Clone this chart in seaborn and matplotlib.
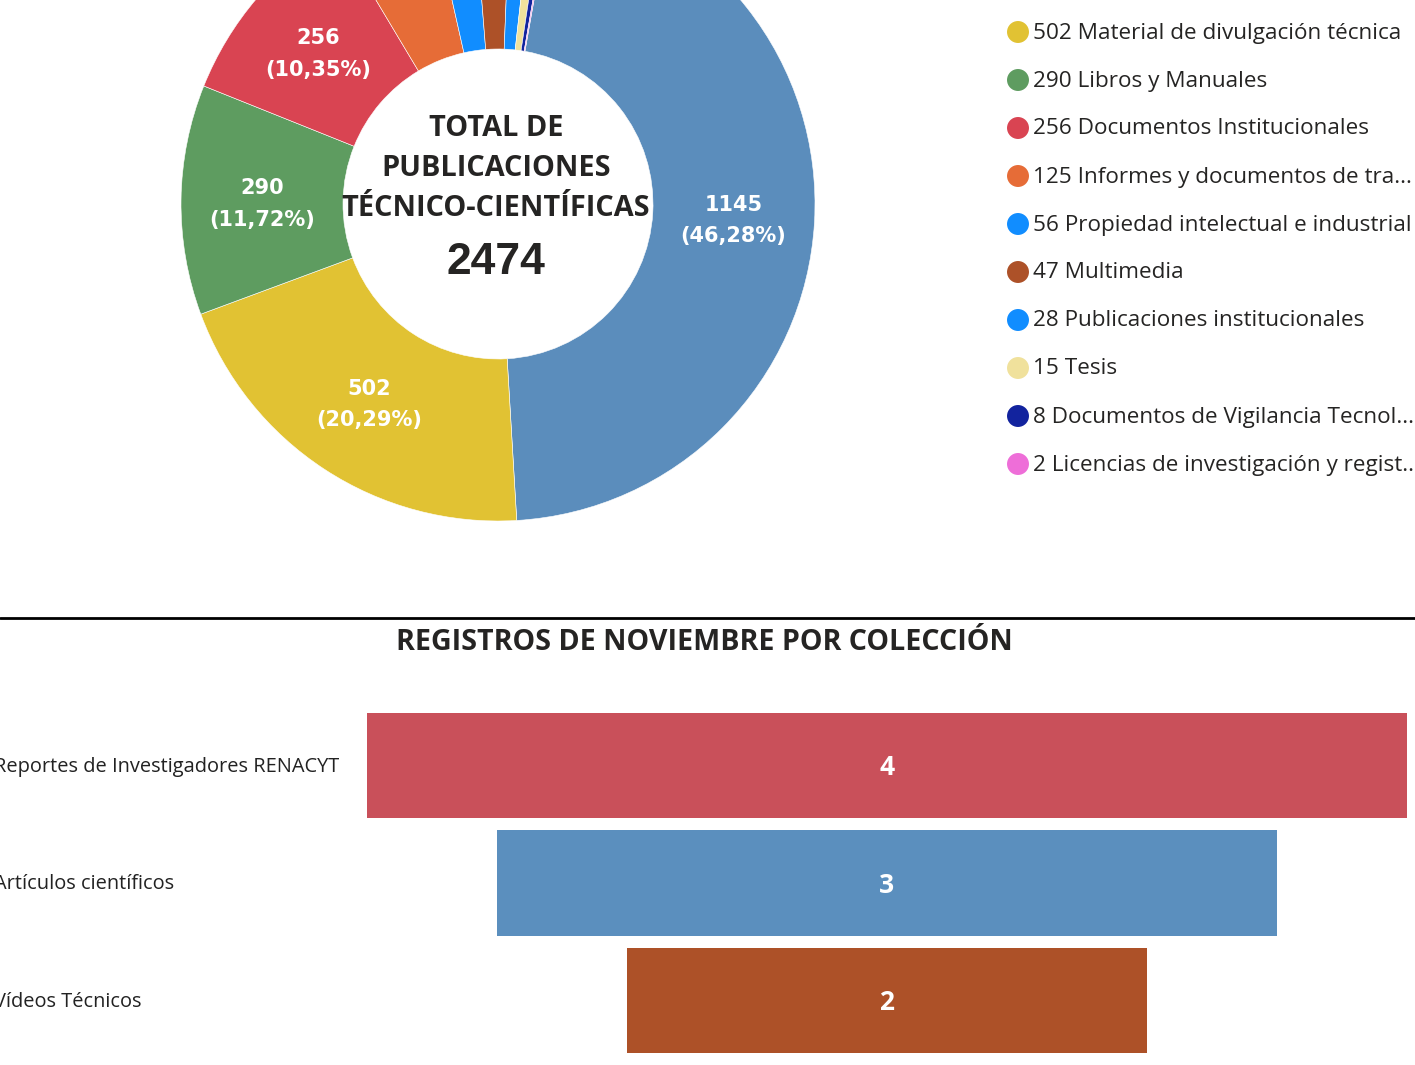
import numpy as np
import pandas as pd
import matplotlib
matplotlib.use("Agg")
import matplotlib.pyplot as plt
import matplotlib.transforms as mtransforms
import seaborn as sns

sns.set_style("white")
plt.rcParams['font.family'] = ['Open Sans', 'DejaVu Sans']

# Datos del anillo (publicaciones)
pub_valores = [1145, 502, 290, 256, 125, 56, 47, 28, 15, 8, 2]
pub_nombres = ["Artículos científicos", "Material de divulgación técnica", "Libros y Manuales",
               "Documentos Institucionales", "Informes y documentos de tra...",
               "Propiedad intelectual e industrial", "Multimedia", "Publicaciones institucionales",
               "Tesis", "Documentos de Vigilancia Tecnol...", "Licencias de investigación y regist..."]
pub_colores = ["#5B8DBC", "#E1C233", "#5E9C60", "#D94452", "#E66C37", "#118DFF",
               "#AD5128", "#118DFF", "#F0E19C", "#12239E", "#EE6ED8"]

# Datos del embudo (noviembre)
col_nombres = ["Reportes de Investigadores RENACYT", "Artículos científicos", "Vídeos Técnicos"]
col_valores = [4, 3, 2]
col_colores = ["#C9505A", "#5B8FBE", "#AD5128"]

W, H = 1415, 1065
fig = plt.figure(figsize=(W / 100, H / 100), dpi=100)
fig.patch.set_facecolor("white")

def px_rect(x0, y0, x1, y1):
    return [x0 / W, 1 - y1 / H, (x1 - x0) / W, (y1 - y0) / H]

# --- Anillo ---
cx, cy, r_out, r_in = 498, 204, 317, 155
ax_pie = fig.add_axes(px_rect(cx - r_out, cy - r_out, cx + r_out, cy + r_out))
total = sum(pub_valores)
wedges, _ = ax_pie.pie(pub_valores, colors=pub_colores, startangle=80, counterclock=False,
                       radius=1, wedgeprops=dict(width=1 - r_in / r_out, edgecolor="white", linewidth=0.4))
ax_pie.set_xlim(-1, 1)
ax_pie.set_ylim(-1, 1)
ax_pie.axis("off")

r_lab = (1 + r_in / r_out) / 2
for w, v in zip(wedges, pub_valores):
    if v / total < 0.10:
        continue
    ang = np.deg2rad((w.theta1 + w.theta2) / 2)
    pct = f"{100 * v / total:.2f}".replace(".", ",")
    ax_pie.text(r_lab * np.cos(ang), r_lab * np.sin(ang) - 0.01, f"{v}\n({pct}%)", color="white",
                fontsize=15, fontweight="bold", family="DejaVu Sans", ha="center", va="center",
                linespacing=1.7)

# --- Embudo ---
ax_bar = fig.add_axes(px_rect(367, 706.75, 1407, 1059.25))
df = pd.DataFrame({"coleccion": col_nombres, "valor": col_valores})
df["mitad"] = df["valor"] / 2
for signo in (1, -1):
    sns.barplot(data=df.assign(x=signo * df["mitad"]), x="x", y="coleccion", hue="coleccion",
                palette=col_colores, orient="h", width=0.894, saturation=1, errorbar=None,
                legend=False, ax=ax_bar)
for p in ax_bar.patches:
    p.set_linewidth(0)
ax_bar.set_xlim(-2, 2)
ax_bar.set_ylim(2.5, -0.5)
ax_bar.axis("off")
for i, v in enumerate(col_valores):
    ax_bar.text(0, i + 0.02, str(v), color="white", fontsize=19, fontweight="bold", ha="center", va="center")

trans = mtransforms.blended_transform_factory(fig.transFigure, ax_bar.transData)
for i, nombre in enumerate(col_nombres):
    ax_bar.text(-6 / W, i + 0.01, nombre, transform=trans, fontsize=14.4, color="#222222",
                ha="left", va="center", clip_on=False)

# --- Capa de textos ---
ax_ov = fig.add_axes([0, 0, 1, 1])
ax_ov.set_xlim(0, W)
ax_ov.set_ylim(H, 0)
ax_ov.axis("off")
ax_ov.set_zorder(10)

for yy, linea in zip([129, 169, 209], ["TOTAL DE", "PUBLICACIONES", "TÉCNICO-CIENTÍFICAS"]):
    ax_ov.text(496, yy, linea, fontsize=20.8, fontweight="bold", color="#252423",
               ha="center", va="center")
ax_ov.text(496, 262, str(total), fontsize=32, fontweight="bold", family="Liberation Sans",
           color="#252423", ha="center", va="center")

# leyenda
for k, (v, nombre, c) in enumerate(zip(pub_valores, pub_nombres, pub_colores)):
    y = 32 + 48 * (k - 1)
    ax_ov.scatter([1018], [y], s=250, color=c, edgecolor="none")
    ax_ov.text(1033, y + 1, f"{v} {nombre}", fontsize=16.2, color="#252423", ha="left", va="center")

ax_ov.axhline(618, color="black", lw=2)
ax_ov.text(704, 642, "REGISTROS DE NOVIEMBRE POR COLECCIÓN", fontsize=20.6, fontweight="bold",
           color="#252423", ha="center", va="center")

plt.savefig("out.png", dpi=100)
plt.close()
